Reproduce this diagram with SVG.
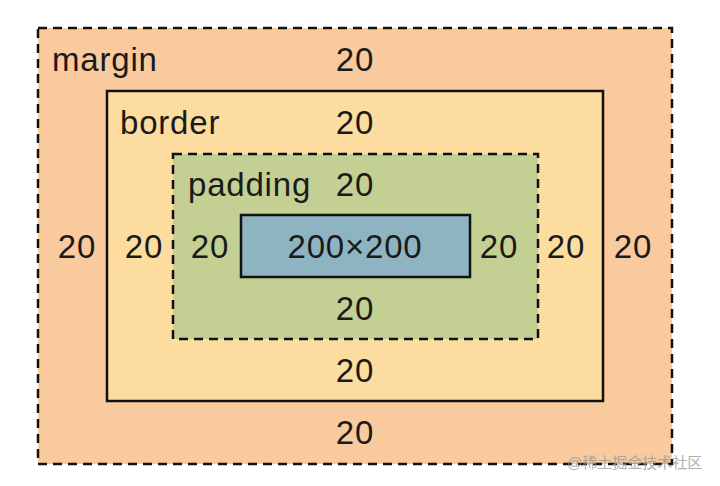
<svg xmlns="http://www.w3.org/2000/svg" width="720" height="486" viewBox="0 0 720 486">
<style>
.t{font-family:"Liberation Sans",Arial,sans-serif;font-size:33px;letter-spacing:0.8px;fill:#1a1a1a}
.c{text-anchor:middle}
.box{stroke:#111;stroke-width:2.5}
.dash{stroke-dasharray:9 6}
</style>
<rect width="720" height="486" fill="#ffffff"/>
<g id="margin">
<rect class="box dash" x="38" y="28" width="634" height="436" fill="#f8ca9d"/>
<text class="t" x="52" y="71">margin</text>
<text class="t c" x="355" y="71">20</text>
<text class="t c" x="77" y="258">20</text>
<text class="t c" x="633" y="258">20</text>
<text class="t c" x="355" y="444">20</text>
</g>
<g id="border">
<rect class="box" x="107" y="91" width="496" height="310" fill="#fddca0"/>
<text class="t" x="120" y="134">border</text>
<text class="t c" x="355" y="134">20</text>
<text class="t c" x="144" y="258">20</text>
<text class="t c" x="566" y="258">20</text>
<text class="t c" x="355" y="382">20</text>
</g>
<g id="padding">
<rect class="box dash" x="173" y="154" width="365" height="185" fill="#c4cf93"/>
<text class="t" x="188" y="196">padding</text>
<text class="t c" x="355" y="196">20</text>
<text class="t c" x="210" y="258">20</text>
<text class="t c" x="499" y="258">20</text>
<text class="t c" x="355" y="320">20</text>
</g>
<g id="content">
<rect class="box" x="241" y="215" width="229" height="62" fill="#8eb4c2"/>
<text class="t c" x="355" y="258">200×200</text>
</g>
<g id="connectors"></g>
<text x="567" y="468" style="font-family:'Liberation Sans','Noto Sans CJK SC',sans-serif;font-size:15px;fill:#9a9a9a;opacity:0.8">@稀土掘金技术社区</text>
</svg>
